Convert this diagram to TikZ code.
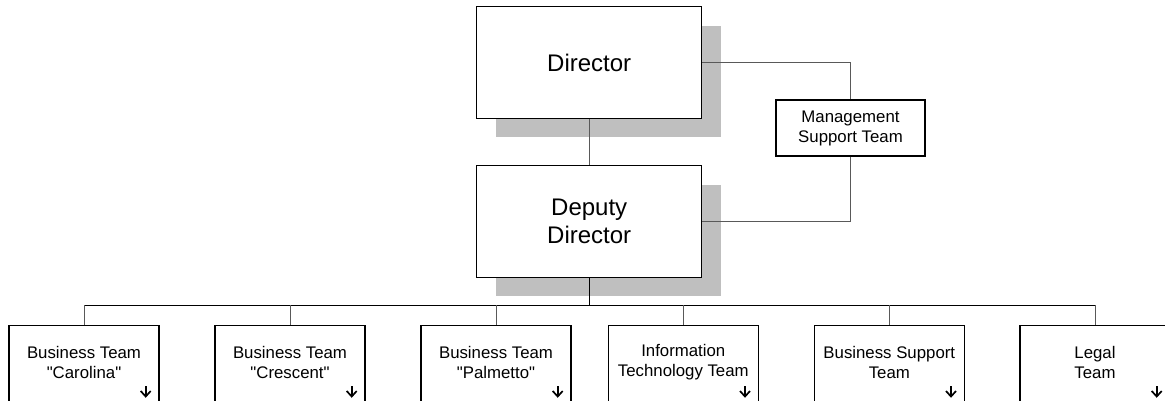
\documentclass[tikz,border=0pt]{standalone}
\usepackage{fontspec}
\setmainfont{Liberation Sans}[Ligatures=TeXOff]
\begin{document}
\begin{tikzpicture}[x=1pt,y=-1pt,
  box/.style={draw=black,line width=1.4pt,fill=white,inner sep=0pt,align=center},
  bigbox/.style={box,minimum width=225pt,minimum height=111.6pt,font=\fontsize{24}{27.5}\selectfont},
  smallbox/.style={box,minimum width=150pt,minimum height=75.5pt,anchor=north},
  lbl/.style={align=center,inner sep=0pt,font=\fontsize{16.8}{20}\selectfont},
  shadowbox/.style={fill=black!25,draw=none,minimum width=225pt,minimum height=111.6pt,inner sep=0pt},
  conn/.style={draw=black!65,line width=0.9pt},
  bus/.style={draw=black,line width=1.3pt},
  darrow/.style={draw=black,line width=1.7pt}
]
\useasboundingbox (0,0) rectangle (1165,400);
\clip (0,0) rectangle (1165,400);
% shadows
\node[shadowbox] (dirsh) at (608.2,81.5) {};
\node[shadowbox] (depsh) at (608.2,240.5) {};
% main boxes
\node[bigbox] (dir) at (589.2,62.5) {Director};
\node[bigbox] (dep) at (589.2,221.5) {Deputy\\Director};
\node[box,minimum width=149pt,minimum height=56pt,font=\fontsize{16.8}{20}\selectfont] (mst) at (850.5,128) {Management\\Support Team};
% bus
\coordinate (busc) at (589.2,305.3);
\coordinate (busl) at (84,305.3);
\coordinate (busr) at (1095,305.3);
% bottom boxes
\node[smallbox] (b1) at (84,325) {};
\node[smallbox] (b2) at (290,325) {};
\node[smallbox] (b3) at (496,325) {};
\node[smallbox] (b4) at (683.3,325) {};
\node[smallbox] (b5) at (889.3,325) {};
\node[smallbox] (b6) at (1095,325) {};
\node[lbl] (t1) at (84,362) {Business Team\\"Carolina"};
\node[lbl] (t2) at (290,362) {Business Team\\"Crescent"};
\node[lbl] (t3) at (496,362) {Business Team\\"Palmetto"};
\node[lbl] (t4) at (683.3,362) {Information\\Technology Team};
\node[lbl] (t5) at (889.3,362) {Business Support\\Team};
\node[lbl] (t6) at (1095,362) {Legal\\Team};
% arrows in boxes
\foreach \b in {b1,b2,b3,b4,b5,b6}{
  \coordinate (\b a) at ([xshift=-14pt]\b.east |- 0,396);
  \draw[darrow] ([yshift=10pt]\b a) -- (\b a);
  \draw[darrow] ([xshift=-5pt,yshift=5pt]\b a) -- ([yshift=-0.5pt]\b a) -- ([xshift=5pt,yshift=5pt]\b a);
}
% connectors
\draw[conn] (dir.south) -- (dep.north);
\draw[conn] (dir.east) -| (mst.north);
\draw[conn] (mst.south) |- (dep.east);
\draw[bus] (dep.south) -- (busc);
\draw[bus] (busl) -- (busr);
\foreach \b in {b1,b2,b3,b4,b5,b6}{
  \draw[conn] (\b.north |- busc) -- (\b.north);
}
\end{tikzpicture}
\end{document}
